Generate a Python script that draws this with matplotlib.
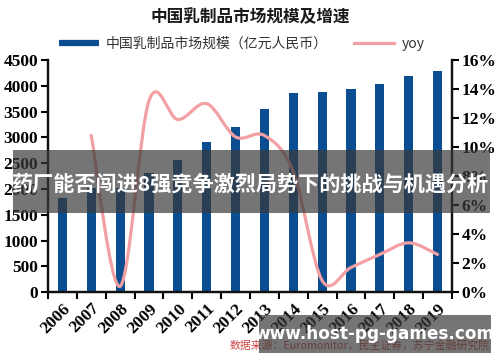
import matplotlib
matplotlib.use('Agg')
import matplotlib.pyplot as plt
from matplotlib.path import Path
from matplotlib.patches import PathPatch, Rectangle
from matplotlib.lines import Line2D
import numpy as np

plt.rcParams['font.family'] = ['Noto Sans CJK SC', 'DejaVu Sans']

years = ['2006', '2007', '2008', '2009', '2010', '2011', '2012',
         '2013', '2014', '2015', '2016', '2017', '2018', '2019']
market_size = [1820, 2015, 2025, 2305, 2570, 2905, 3210,
               3560, 3860, 3880, 3935, 4045, 4185, 4285]
yoy = [10.8, 0.4, 13.2, 11.9, 13.0, 10.7, 10.8, 8.3, 0.8, 1.7, 2.6, 3.4, 2.6]  # from 2007

bar_color = '#0b4d91'
line_color = '#f2a0a3'
tick_font = dict(fontfamily='Liberation Serif', fontweight='bold', fontsize=12.5)

fig = plt.figure(figsize=(5, 3.62), dpi=100)
ax = fig.add_axes([0.096, 0.193, 0.808, 0.641])
ax2 = ax.twinx()

x = np.arange(len(years))
ax.bar(x, market_size, width=0.32, color=bar_color, zorder=2)
ax.set_xlim(-0.5, len(years) - 0.5)
ax.set_ylim(0, 4500)
ax.set_xticks(x, years, rotation=45, ha='right', rotation_mode='anchor', **tick_font)
ax.set_xticks(np.arange(-0.5, len(years)), minor=True)
ax.tick_params(axis='x', which='major', length=0, pad=6)
ax.tick_params(axis='x', which='minor', length=5, width=1.5, direction='out')
yt = list(range(0, 4501, 500))
ax.set_yticks(yt, [str(v) for v in yt], **tick_font)
ax.tick_params(axis='y', length=5, width=1.5, pad=2)

# smooth yoy curve (Catmull-Rom drawn as cubic Bezier path)
xs = x[1:].astype(float)
pts = np.column_stack([xs, yoy])
verts = [tuple(pts[0])]
codes = [Path.MOVETO]
n = len(pts)
for i in range(n - 1):
    p0 = pts[max(i - 1, 0)]
    p1 = pts[i]
    p2 = pts[i + 1]
    p3 = pts[min(i + 2, n - 1)]
    c1 = p1 + (p2 - p0) / 6.0
    c2 = p2 - (p3 - p1) / 6.0
    verts += [tuple(c1), tuple(c2), tuple(p2)]
    codes += [Path.CURVE4] * 3
ax2.add_patch(PathPatch(Path(verts, codes), facecolor='none', edgecolor=line_color,
                        lw=2.3, capstyle='round', zorder=3))
ax2.set_ylim(0, 16)
rt = list(range(0, 17, 2))
ax2.set_yticks(rt, [f'{v}%' for v in rt], **tick_font)
ax2.tick_params(axis='y', length=5, width=1.5, pad=2)

for a in (ax, ax2):
    a.spines['top'].set_visible(False)
    for s in ('left', 'right', 'bottom'):
        a.spines[s].set_linewidth(1.6)
        a.spines[s].set_color('#111111')

fig.text(0.5, 0.953, '中国乳制品市场规模及增速', ha='center', va='center',
         fontsize=12, fontweight='heavy', color='#1a1a1a')

handles = [Line2D([], [], color=bar_color, lw=4.5, solid_capstyle='butt'),
           Line2D([], [], color=line_color, lw=2.3)]
fig.legend(handles, ['中国乳制品市场规模（亿元人民币）', 'yoy'], loc='center',
           bbox_to_anchor=(0.483, 0.878), ncol=2, frameon=False, fontsize=10,
           handlelength=2.9, handletextpad=0.5, columnspacing=1.9,
           labelcolor='#333333')

fig.text(0.46, 0.047, '数据来源：Euromonitor，民生证券，苏宁金融研究院', ha='left',
         va='center', fontsize=7.8, color='#d04545')

# overlay banners
fig.add_artist(Rectangle((0.026, 0.4116), 0.954, 0.174, transform=fig.transFigure,
                         facecolor='#3a3a3a', alpha=0.7, edgecolor='none', zorder=10))
fig.text(0.5, 0.4917, '药厂能否闯进8强竞争激烈局势下的挑战与机遇分析', ha='center',
         va='center', fontsize=15.2, fontweight='bold', color='white', zorder=11)
fig.add_artist(Rectangle((0.518, 0.0249), 0.464, 0.105, transform=fig.transFigure,
                         facecolor='#3a3a3a', alpha=0.7, edgecolor='none', zorder=10))
fig.text(0.749, 0.0773, 'www.host-pg-games.com', ha='center', va='center',
         fontsize=12.2, fontweight='bold', color='white', zorder=11,
         fontfamily='DejaVu Sans')

fig.savefig('out.png', dpi=100)
